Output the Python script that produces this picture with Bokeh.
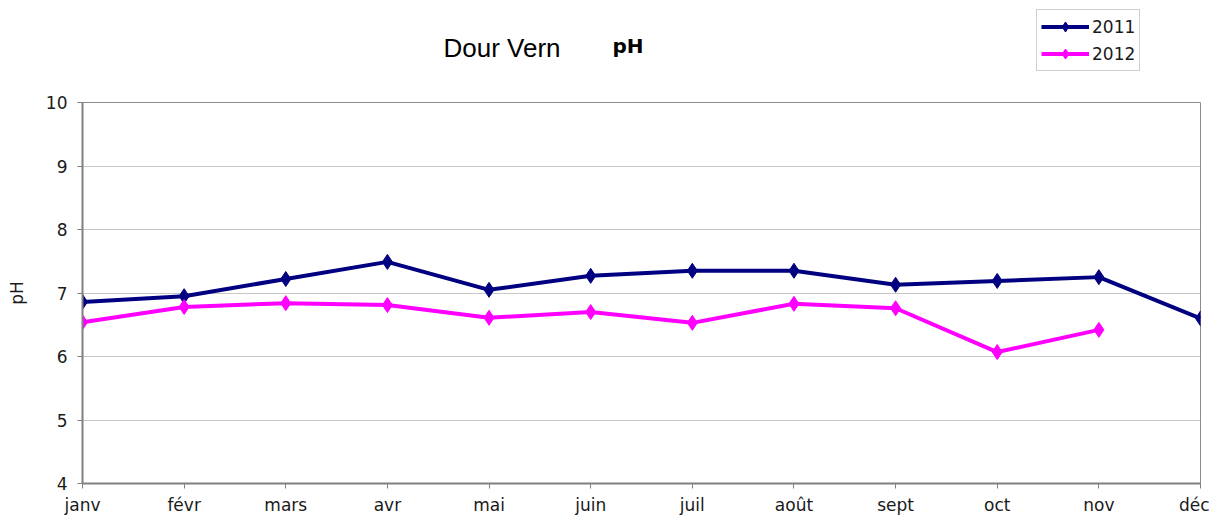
from bokeh.plotting import figure
from bokeh.models import Range1d, FixedTicker, Label, Legend, LegendItem
from bokeh.layouts import column
from bokeh.embed import file_html
from bokeh.resources import INLINE

months = ["janv", "févr", "mars", "avr", "mai", "juin", "juil", "août", "sept", "oct", "nov", "déc"]
ph_2011 = [6.86, 6.95, 7.22, 7.49, 7.05, 7.27, 7.35, 7.35, 7.13, 7.19, 7.25, 6.60]
ph_2012 = [6.54, 6.78, 6.84, 6.81, 6.61, 6.70, 6.53, 6.83, 6.76, 6.07, 6.42]
y_ticks = [4, 5, 6, 7, 8, 9, 10]

FONT = "DejaVu Sans"
C11 = "#000080"
C12 = "#ff00ff"
W = 1209
TOP_H = 90
MAIN_H = 427
BL = 82
BR = 9

# ---------- header figure (title + legend) ----------
top = figure(width=W, height=TOP_H, output_backend="svg", toolbar_location=None,
             x_range=Range1d(0, 1), y_range=Range1d(0, 1),
             x_axis_type=None, y_axis_type=None,
             min_border_left=BL, min_border_right=BR, min_border_top=0, min_border_bottom=0)
top.outline_line_color = None
top.xgrid.grid_line_color = None
top.ygrid.grid_line_color = None

# legend sample renderers (kept outside the visible range of the header)
d1l = top.line([-50, -40], [-50, -50], line_color=C11, line_width=4)
d1m = top.scatter([-45], [-50], marker="diamond", size=15, fill_color=C11, line_color=C11)
d2l = top.line([-50, -40], [-60, -60], line_color=C12, line_width=4)
d2m = top.scatter([-45], [-60], marker="diamond", size=15, fill_color=C12, line_color=C12)

top.add_layout(Label(x=361, y=43, x_units="screen", y_units="screen", text="Dour Vern",
                     text_font="Liberation Sans", text_font_size="26px", text_color="#000000",
                     text_align="left", text_baseline="middle"))
top.add_layout(Label(x=530, y=45, x_units="screen", y_units="screen", text="pH",
                     text_font=FONT, text_font_size="20px", text_font_style="bold",
                     text_color="#000000", text_align="left", text_baseline="middle"))

legend = Legend(items=[LegendItem(label="2011", renderers=[d1l, d1m]),
                       LegendItem(label="2012", renderers=[d2l, d2m])],
                location=(954, 19))
legend.label_text_font = FONT
legend.label_text_font_size = "17px"
legend.label_text_color = "#1a1a1a"
legend.border_line_color = "#a0a0a0"
legend.border_line_width = 1
legend.background_fill_color = "white"
legend.padding = 4
legend.margin = 0
legend.spacing = 2
legend.glyph_width = 48
legend.glyph_height = 25
legend.label_standoff = 3
legend.label_height = 25
top.add_layout(legend, "center")

# ---------- main chart ----------
p = figure(width=W, height=MAIN_H, output_backend="svg", toolbar_location=None,
           x_range=Range1d(0, len(months) - 1), y_range=Range1d(4, 10),
           min_border_left=BL, min_border_right=BR, min_border_top=12, min_border_bottom=33)
p.background_fill_color = "white"
p.border_fill_color = "white"
p.outline_line_color = "#8c8c8c"
p.outline_line_width = 1

x12 = list(range(len(months)))
x11 = list(range(len(ph_2012)))

p.line(x12, ph_2011, line_color=C11, line_width=4)
p.scatter(x12, ph_2011, marker="diamond", size=15, fill_color=C11, line_color=C11)
p.line(x11, ph_2012, line_color=C12, line_width=4)
p.scatter(x11, ph_2012, marker="diamond", size=15, fill_color=C12, line_color=C12)

p.xaxis.ticker = FixedTicker(ticks=x12)
p.xaxis.major_label_overrides = {i: m for i, m in enumerate(months)}
p.yaxis.ticker = FixedTicker(ticks=y_ticks)
for ax in (p.xaxis[0], p.yaxis[0]):
    ax.axis_line_color = "#808080"
    ax.axis_line_width = 2
    ax.major_tick_line_color = "#808080"
    ax.major_tick_out = 5
    ax.major_tick_in = 0
    ax.minor_tick_line_color = None
    ax.major_label_text_font = FONT
    ax.major_label_text_font_size = "17px"
    ax.major_label_text_color = "#1a1a1a"
p.yaxis.major_label_standoff = 10
p.xaxis.major_label_standoff = 6
p.yaxis.axis_label = "pH"
p.yaxis.axis_label_text_font = FONT
p.yaxis.axis_label_text_font_size = "17px"
p.yaxis.axis_label_text_font_style = "normal"
p.yaxis.axis_label_text_color = "#1a1a1a"
p.yaxis.axis_label_standoff = 16

p.xgrid.grid_line_color = None
p.ygrid.grid_line_color = "#c8c8c8"
p.ygrid.grid_line_width = 1

layout = column(top, p, spacing=0)
open("out.html", "w").write(file_html(layout, INLINE))
